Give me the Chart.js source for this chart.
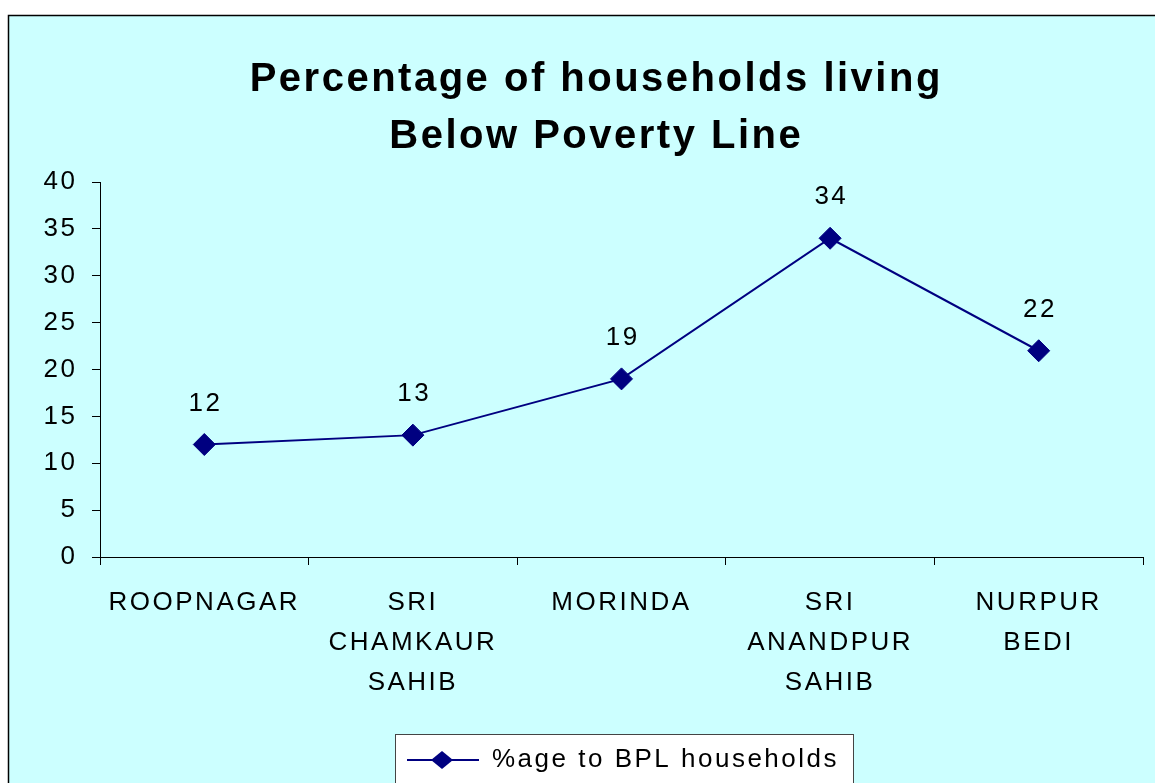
<!DOCTYPE html>
<html>
<head>
<meta charset="utf-8">
<script src="https://cdn.jsdelivr.net/npm/chart.js@4.4.0/dist/chart.umd.min.js"></script>
<style>
  html, body { margin: 0; padding: 0; background: #fff; }
  canvas { display: block; }
</style>
</head>
<body>
<canvas id="bplChart" width="1155" height="783"></canvas>
<script>
const categories = [['ROOPNAGAR'], ['SRI', 'CHAMKAUR', 'SAHIB'], ['MORINDA'], ['SRI', 'ANANDPUR', 'SAHIB'], ['NURPUR', 'BEDI']];
const bplPercent = [12, 13, 19, 34, 22];
const seriesName = '%age to BPL households';
const titleLines = ['Percentage of households living', 'Below Poverty Line'];
const yTicks = [0, 5, 10, 15, 20, 25, 30, 35, 40];

const NAVY = '#000080';
const FONT = "'Liberation Sans', Arial, sans-serif";
const SPACING = '2.5px';
const TEXT_SIZE = 26;

// legend marker: a line with a diamond on it
const legendMark = document.createElement('canvas');
legendMark.width = 72;
legendMark.height = 22;
{
  const c = legendMark.getContext('2d');
  c.strokeStyle = NAVY;
  c.lineWidth = 2;
  c.beginPath(); c.moveTo(0, 11); c.lineTo(72, 11); c.stroke();
  c.fillStyle = NAVY;
  c.beginPath(); c.moveTo(24, 11); c.lineTo(35, 2); c.lineTo(46, 11); c.lineTo(35, 20); c.closePath(); c.fill();
}

// old excel look: text is spread out a bit
const spacingPlugin = {
  id: 'spacing',
  beforeLayout(chart) { chart.ctx.letterSpacing = SPACING; },
  beforeDraw(chart) { chart.ctx.letterSpacing = SPACING; }
};

const framePlugin = {
  id: 'frame',
  afterLayout(chart) {
    chart.titleBlock.left += 22.75;
    chart.titleBlock.right += 22.75;
    chart.legend.left += 49.5;
    chart.legend.right += 49.5;
  },
  beforeDraw(chart) {
    const ctx = chart.ctx;
    ctx.save();
    ctx.fillStyle = '#fff';
    ctx.fillRect(0, 0, chart.width, chart.height);
    ctx.fillStyle = '#CCFFFF';
    ctx.fillRect(8, 15, chart.width, chart.height);
    ctx.strokeStyle = '#000';
    ctx.lineWidth = 1.5;
    ctx.strokeRect(8.5, 15.5, chart.width + 20, chart.height + 20);

    // white box behind the legend
    const lg = chart.legend;
    ctx.font = `${TEXT_SIZE}px ${FONT}`;
    const itemW = 72 + TEXT_SIZE / 2 + ctx.measureText(seriesName).width;
    const cx = (lg.left + lg.right) / 2;
    const x0 = Math.round(cx - itemW / 2 - 12) + 0.5;
    const y0 = Math.round(lg.top + 2 + TEXT_SIZE / 2 - 26) + 0.5;
    ctx.fillStyle = '#fff';
    ctx.fillRect(x0, y0, itemW + 26, chart.height);
    ctx.strokeStyle = '#444';
    ctx.lineWidth = 1;
    ctx.strokeRect(x0, y0, itemW + 26, chart.height);
    ctx.restore();
  }
};

const valueLabels = {
  id: 'valueLabels',
  afterDatasetsDraw(chart) {
    const ctx = chart.ctx;
    const meta = chart.getDatasetMeta(0);
    ctx.save();
    ctx.font = `${TEXT_SIZE}px ${FONT}`;
    ctx.fillStyle = '#000';
    ctx.textAlign = 'center';
    ctx.textBaseline = 'middle';
    meta.data.forEach((pt, i) => {
      ctx.fillText(String(bplPercent[i]), pt.x + 1.25, pt.y - 41);
    });
    ctx.restore();
  }
};

new Chart(document.getElementById('bplChart'), {
  type: 'line',
  data: {
    labels: categories,
    datasets: [{
      label: seriesName,
      data: bplPercent,
      borderColor: NAVY,
      backgroundColor: NAVY,
      borderWidth: 2,
      pointStyle: 'rectRot',
      pointRadius: 11,
      pointBorderWidth: 1,
      tension: 0,
    }],
  },
  options: {
    responsive: false,
    animation: false,
    events: [],
    layout: { padding: { left: 0, right: 8, top: 0, bottom: 0 } },
    plugins: {
      title: {
        display: true,
        text: titleLines,
        color: '#000',
        font: { family: FONT, size: 40, weight: 'bold', lineHeight: 1.425 },
        padding: { top: 51.5, bottom: 16.5 },
      },
      legend: {
        position: 'bottom',
        labels: {
          usePointStyle: true,
          pointStyle: legendMark,
          pointStyleWidth: 72,
          padding: 2,
          color: '#000',
          font: { family: FONT, size: TEXT_SIZE },
        },
      },
      tooltip: { enabled: false },
    },
    scales: {
      x: {
        offset: true,
        grid: { offset: true, drawOnChartArea: false, color: '#000', tickLength: 8 },
        border: { color: '#000' },
        ticks: {
          color: '#000', autoSkip: false, maxRotation: 0, padding: 18,
          font: { family: FONT, size: TEXT_SIZE, lineHeight: 40 / TEXT_SIZE },
        },
        afterFit(s) { s.height = 188; },
      },
      y: {
        min: 0,
        max: 40,
        afterBuildTicks(s) { s.ticks = yTicks.map((v) => ({ value: v })); },
        ticks: { color: '#000', padding: 14.5, font: { family: FONT, size: TEXT_SIZE } },
        grid: { drawOnChartArea: false, color: '#000', tickLength: 8 },
        border: { color: '#000' },
        afterFit(s) { s.width = 100; },
      },
    },
  },
  plugins: [spacingPlugin, framePlugin, valueLabels],
});
</script>
</body>
</html>
